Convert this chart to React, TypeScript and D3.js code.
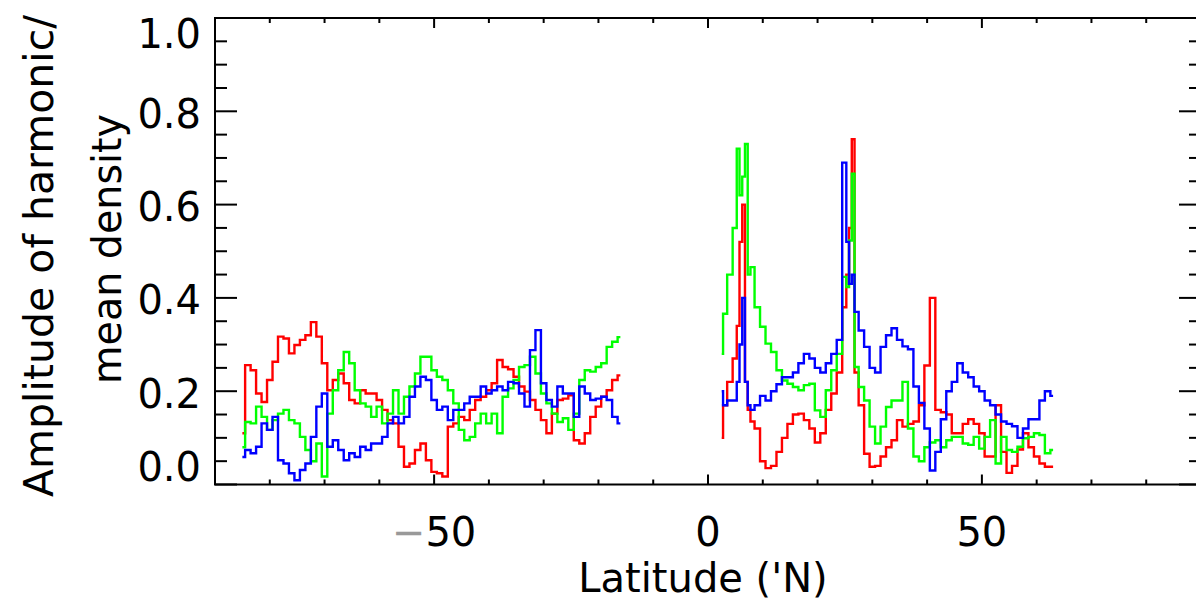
import React from 'react';
import * as d3 from 'd3';

// Latitudes (deg N) of the samples
const southLat = [
  -85, -84, -83, -82, -81, -80, -79, -78, -77, -76,
  -75, -74, -73, -72, -71, -70, -69, -68, -67, -66,
  -65, -64, -63, -62, -61, -60, -59, -58, -57, -56,
  -55, -54, -53, -52, -51, -50, -49, -48, -47, -46,
  -45, -44, -43, -42, -41, -40, -39, -38, -37, -36,
  -35, -34, -33, -32, -31, -30, -29, -28, -27, -26,
  -25, -24, -23, -22, -21, -20, -19, -18, -17, -16,
];
const northLat = [
  2.5, 3, 4, 5, 5.5, 6, 6.5, 7, 7.5, 8,
  9, 10, 11, 12, 13, 14, 15, 16, 17, 18,
  19, 20, 21, 22, 23, 24, 25, 25.5, 26, 26.5,
  27, 28, 29, 30, 31, 32, 33, 34, 35, 36,
  37, 38, 39, 40, 41, 42, 43, 44, 45, 46,
  47, 48, 49, 50, 51, 52, 53, 54, 55, 56,
  57, 58, 59, 60, 61, 62, 63,
];

const redSouth = [
  0.11, 0.256, 0.245, 0.195, 0.177, 0.224, 0.263, 0.317, 0.313, 0.281,
  0.299, 0.31, 0.32, 0.348, 0.317, 0.26, 0.202, 0.224, 0.238, 0.217,
  0.181, 0.174, 0.202, 0.195, 0.195, 0.181, 0.16, 0.138, 0.131, 0.081,
  0.038, 0.045, 0.074, 0.088, 0.052, 0.027, 0.024, 0.017, 0.124, 0.131,
  0.145, 0.138, 0.16, 0.181, 0.188, 0.202, 0.217, 0.267, 0.252, 0.247,
  0.231, 0.21, 0.199, 0.181, 0.16, 0.138, 0.11, 0.152, 0.181, 0.184,
  0.191, 0.095, 0.088, 0.11, 0.145, 0.167, 0.188, 0.202, 0.224, 0.234,
];
const greenSouth = [
  0.08, 0.134, 0.131, 0.167, 0.145, 0.117, 0.138, 0.152, 0.16, 0.138,
  0.131, 0.102, 0.074, 0.05, 0.088, 0.017, 0.152, 0.202, 0.245, 0.284,
  0.26, 0.202, 0.174, 0.167, 0.145, 0.167, 0.131, 0.152, 0.202, 0.152,
  0.188, 0.21, 0.238, 0.274, 0.274, 0.245, 0.231, 0.224, 0.202, 0.174,
  0.117, 0.095, 0.102, 0.131, 0.152, 0.131, 0.152, 0.11, 0.188, 0.206,
  0.224, 0.252, 0.256, 0.274, 0.238, 0.195, 0.174, 0.152, 0.134, 0.142,
  0.117, 0.152, 0.224, 0.245, 0.242, 0.252, 0.26, 0.295, 0.306, 0.316,
];
const blueSouth = [
  0.059, 0.074, 0.067, 0.081, 0.131, 0.117, 0.145, 0.052, 0.045, 0.024,
  0.009, 0.031, 0.045, 0.102, 0.167, 0.195, 0.081, 0.095, 0.074, 0.052,
  0.067, 0.059, 0.081, 0.074, 0.088, 0.088, 0.102, 0.131, 0.145, 0.131,
  0.145, 0.188, 0.21, 0.231, 0.224, 0.181, 0.16, 0.167, 0.138, 0.16,
  0.16, 0.174, 0.188, 0.188, 0.21, 0.195, 0.202, 0.21, 0.202, 0.22,
  0.217, 0.195, 0.167, 0.288, 0.331, 0.217, 0.181, 0.167, 0.21, 0.195,
  0.195, 0.145, 0.21, 0.195, 0.181, 0.184, 0.188, 0.181, 0.145, 0.131,
];

const redNorth = [
  0.10, 0.17, 0.22, 0.27, 0.34, 0.52, 0.60, 0.22, 0.16, 0.135,
  0.12, 0.05, 0.035, 0.04, 0.07, 0.10, 0.13, 0.15, 0.152, 0.138,
  0.12, 0.09, 0.11, 0.16, 0.195, 0.24, 0.38, 0.45, 0.55, 0.74,
  0.24, 0.17, 0.066, 0.038, 0.04, 0.06, 0.08, 0.095, 0.138, 0.124,
  0.13, 0.135, 0.17, 0.255, 0.40, 0.16, 0.155, 0.15, 0.11, 0.11,
  0.13, 0.14, 0.13, 0.11, 0.06, 0.06, 0.17, 0.07, 0.025, 0.04,
  0.075, 0.11, 0.08, 0.06, 0.045, 0.038, 0.038,
];
const greenNorth = [
  0.28, 0.366, 0.45, 0.55, 0.72, 0.62, 0.66, 0.73, 0.45, 0.466,
  0.38, 0.338, 0.302, 0.284, 0.245, 0.223, 0.216, 0.209, 0.202, 0.213,
  0.216, 0.159, 0.145, 0.202, 0.245, 0.28, 0.445, 0.423, 0.523, 0.666,
  0.252, 0.209, 0.18, 0.124, 0.088, 0.124, 0.166, 0.18, 0.18, 0.22,
  0.12, 0.06, 0.05, 0.08, 0.09, 0.095, 0.08, 0.095, 0.102, 0.102,
  0.088, 0.085, 0.102, 0.077, 0.102, 0.138, 0.045, 0.102, 0.074, 0.07,
  0.081, 0.099, 0.102, 0.11, 0.106, 0.067, 0.074,
];
const blueNorth = [
  0.20, 0.17, 0.18, 0.18, 0.22, 0.30, 0.40, 0.22, 0.17, 0.16,
  0.17, 0.19, 0.18, 0.20, 0.215, 0.23, 0.23, 0.24, 0.26, 0.28,
  0.27, 0.25, 0.24, 0.26, 0.28, 0.31, 0.69, 0.52, 0.43, 0.45,
  0.37, 0.33, 0.295, 0.25, 0.24, 0.295, 0.32, 0.335, 0.31, 0.296,
  0.29, 0.21, 0.175, 0.12, 0.03, 0.07, 0.14, 0.20, 0.22, 0.26,
  0.24, 0.23, 0.21, 0.20, 0.18, 0.17, 0.15, 0.135, 0.13, 0.125,
  0.10, 0.12, 0.14, 0.14, 0.18, 0.20, 0.19,
];

const xMajorTicks = [-50, 0, 50];
const xTickLabels = ['50', '0', '50'];
const yMajorTicks = [0, 0.2, 0.4, 0.6, 0.8, 1.0];
const yTickLabels = ['0.0', '0.2', '0.4', '0.6', '0.8', '1.0'];
const xTitle = "Latitude ('N)";
const yTitle1 = 'Amplitude of harmonic/';
const yTitle2 = 'mean density';

const series = [
  { color: '#ff0000', south: redSouth, north: redNorth },
  { color: '#00ff00', south: greenSouth, north: greenNorth },
  { color: '#0000ff', south: blueSouth, north: blueNorth },
];

export default function App() {
  const W = 1196;
  const H = 605;
  const left = 215, right = 1201, top = 18, bottom = 484.5;
  const x = d3.scaleLinear().domain([-90, 90]).range([left, right]);
  const y = d3.scaleLinear().domain([0, 1]).range([bottom, top]);
  const line = d3
    .line<[number, number]>()
    .x((d) => x(d[0]))
    .y((d) => y(d[1]))
    .curve(d3.curveStep);

  const xMinor = d3.range(-90, 91, 10).filter((v) => v % 50 !== 0);
  const yMinor = d3.range(0, 1.0001, 0.05).filter((v) => Math.abs(v * 5 - Math.round(v * 5)) > 1e-6);

  const font = "'DejaVu Sans', Verdana, sans-serif";
  const yLabelCenter = (v: number) => (v >= 1 ? 33 : v <= 0 ? 466 : y(v) + 2);

  return (
    <svg
      width={W}
      height={H}
      style={{ position: 'absolute', left: 0, top: 0, background: '#fff' }}
      fontFamily={font}
    >
      <rect x={0} y={0} width={W} height={H} fill="#fff" />
      {/* data */}
      {series.map((s, i) => (
        <g key={i} fill="none" stroke={s.color} strokeWidth={2.4} strokeLinejoin="miter">
          <path d={line(southLat.map((l, k) => [l, s.south[k]] as [number, number])) || ''} />
          <path d={line(northLat.map((l, k) => [l, s.north[k]] as [number, number])) || ''} />
        </g>
      ))}
      {/* frame */}
      <rect x={left} y={top} width={right - left} height={bottom - top} fill="none" stroke="#000" strokeWidth={2} />
      {/* ticks */}
      <g stroke="#000" strokeWidth={2}>
        {xMajorTicks.map((v) => (
          <g key={'xm' + v}>
            <line x1={x(v)} x2={x(v)} y1={bottom} y2={bottom - 10} />
            <line x1={x(v)} x2={x(v)} y1={top} y2={top + 10} />
          </g>
        ))}
        {xMinor.map((v) => (
          <g key={'xn' + v}>
            <line x1={x(v)} x2={x(v)} y1={bottom} y2={bottom - 5} />
            <line x1={x(v)} x2={x(v)} y1={top} y2={top + 5} />
          </g>
        ))}
        {yMajorTicks.map((v) => (
          <g key={'ym' + v}>
            <line x1={left} x2={left + 22} y1={y(v)} y2={y(v)} />
            <line x1={right} x2={right - 22} y1={y(v)} y2={y(v)} />
          </g>
        ))}
        {yMinor.map((v) => (
          <g key={'yn' + v}>
            <line x1={left} x2={left + 12} y1={y(v)} y2={y(v)} />
            <line x1={right} x2={right - 12} y1={y(v)} y2={y(v)} />
          </g>
        ))}
      </g>
      {/* x tick labels */}
      {xMajorTicks.map((v, i) => (
        <text key={'xl' + v} x={x(v)} y={546} fontSize={40} textAnchor="middle" fill="#000">
          {v < 0 ? <tspan fill="#999">−</tspan> : null}
          {xTickLabels[i]}
        </text>
      ))}
      {/* y tick labels */}
      {yMajorTicks.map((v, i) => (
        <text key={'yl' + v} x={201} y={yLabelCenter(v) + 14.5} fontSize={40} textAnchor="end" fill="#000">
          {yTickLabels[i]}
        </text>
      ))}
      {/* axis titles */}
      <text x={703} y={592} fontSize={40} textAnchor="middle" fill="#000">
        {xTitle}
      </text>
      <text
        transform={`translate(53,256) rotate(-90)`}
        fontSize={40}
        textAnchor="middle"
        fill="#000"
        textLength={482}
        lengthAdjust="spacingAndGlyphs"
      >
        {yTitle1}
      </text>
      <text
        transform={`translate(121,249) rotate(-90)`}
        fontSize={40}
        textAnchor="middle"
        fill="#000"
        textLength={270}
        lengthAdjust="spacingAndGlyphs"
      >
        {yTitle2}
      </text>
    </svg>
  );
}
